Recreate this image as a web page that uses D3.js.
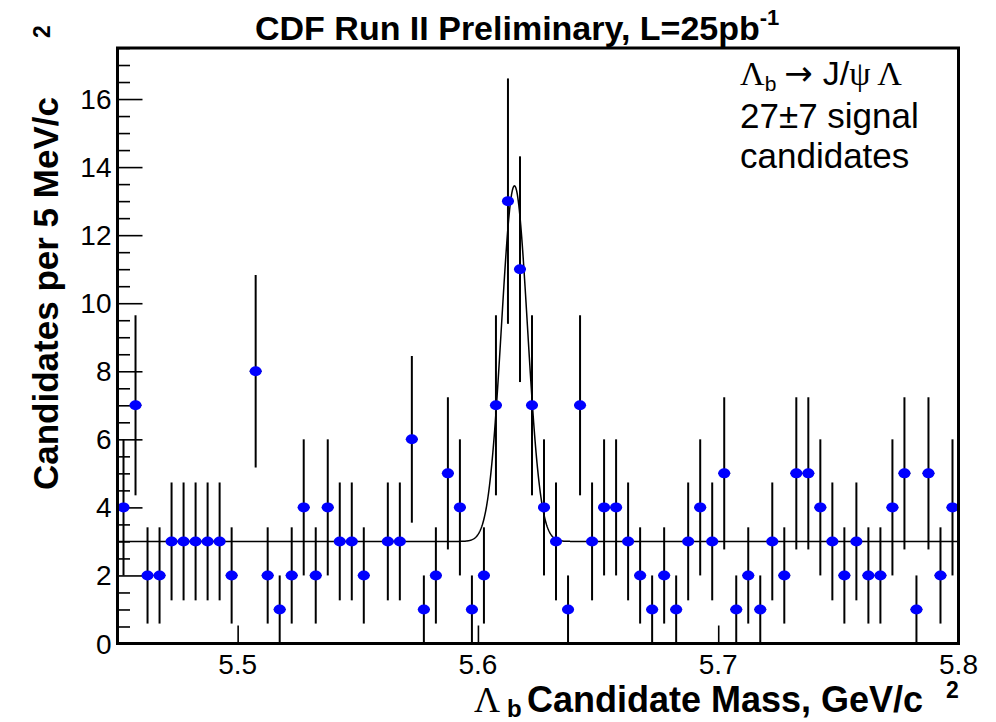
<!DOCTYPE html>
<html><head><meta charset="utf-8">
<script src="https://cdn.jsdelivr.net/npm/d3@7/dist/d3.min.js"></script>
<style>
body{margin:0;background:#fff}
svg{display:block}
text{font-family:"Liberation Sans",Arial,Helvetica,sans-serif;fill:#000}
.serif{font-family:"Liberation Serif","Times New Roman",serif}
.arrow{font-family:"DejaVu Sans",sans-serif}
</style></head><body>
<svg id="chart" width="996" height="722"></svg>
<script>
// Lambda_b candidate mass histogram, 5 MeV bins from 5.45 to 5.80 GeV/c^2
const massBins = [
  5.4525,5.4575,5.4625,5.4675,5.4725,5.4775,5.4825,5.4875,5.4925,5.4975,
  5.5025,5.5075,5.5125,5.5175,5.5225,5.5275,5.5325,5.5375,5.5425,5.5475,
  5.5525,5.5575,5.5625,5.5675,5.5725,5.5775,5.5825,5.5875,5.5925,5.5975,
  5.6025,5.6075,5.6125,5.6175,5.6225,5.6275,5.6325,5.6375,5.6425,5.6475,
  5.6525,5.6575,5.6625,5.6675,5.6725,5.6775,5.6825,5.6875,5.6925,5.6975,
  5.7025,5.7075,5.7125,5.7175,5.7225,5.7275,5.7325,5.7375,5.7425,5.7475,
  5.7525,5.7575,5.7625,5.7675,5.7725,5.7775,5.7825,5.7875,5.7925,5.7975
];
const candidates = [
  4,7,2,2,3,3,3,3,3,2,
  0,8,2,1,2,4,2,4,3,3,
  2,0,3,3,6,1,2,5,4,1,
  2,7,13,11,7,4,3,1,7,3,
  4,4,3,2,1,2,1,3,4,3,
  5,1,2,1,3,2,5,5,4,3,
  2,3,2,2,4,5,1,5,2,4
];
const binWidth = 0.005;

// Gaussian signal on a flat background
const fitBackground = 3;
const fitAmplitude = 10.45;
const fitMean = 5.6152;
const fitSigma = 0.0054;

const xTickValues = [5.5, 5.6, 5.7, 5.8];
const yTickValues = [0, 2, 4, 6, 8, 10, 12, 14, 16];
const xDomain = [5.45, 5.8];
const yDomain = [0, 17.5];

const plot = {left: 117.5, right: 958.5, top: 48, bottom: 643.5};
const svg = d3.select("#chart");

const x = d3.scaleLinear().domain(xDomain).range([plot.left, plot.right]);
const y = d3.scaleLinear().domain(yDomain).range([plot.bottom, plot.top]);

// y axis: major ticks every 2, minor every 0.5, drawn inside the frame
const yMajor = d3.axisRight(y).tickValues(yTickValues).tickSize(25).tickFormat("");
const yMinor = d3.axisRight(y).tickValues(d3.range(0, 17.51, 0.5).filter(v => v % 2 !== 0)).tickSize(12.5).tickFormat("");
[yMajor, yMinor].forEach(ax => {
  const g = svg.append("g").attr("transform", `translate(${plot.left},0)`).call(ax);
  g.select(".domain").remove();
  g.selectAll("line").attr("stroke", "#000").attr("stroke-width", 1.6);
});
svg.append("g").selectAll("text").data(yTickValues).join("text")
  .attr("x", plot.left - 6).attr("y", d => y(d) + 10)
  .attr("text-anchor", "end").attr("font-size", 28).text(d => d);

// x axis: major ticks only, pointing up into the frame
const xAxis = d3.axisTop(x).tickValues(xTickValues).tickSize(18).tickFormat("");
const gx = svg.append("g").attr("transform", `translate(0,${plot.bottom})`).call(xAxis);
gx.select(".domain").remove();
gx.selectAll("line").attr("stroke", "#000").attr("stroke-width", 1.6);
svg.append("g").selectAll("text").data(xTickValues).join("text")
  .attr("x", d => x(d)).attr("y", plot.bottom + 30)
  .attr("text-anchor", "middle").attr("font-size", 28).text(d => d.toFixed(1));

// fit curve
const curveX = d3.range(xDomain[0], xDomain[1] + 1e-9, 0.0002);
const fitValue = m => fitBackground + fitAmplitude * Math.exp(-0.5 * Math.pow((m - fitMean) / fitSigma, 2));
svg.append("path")
  .datum(curveX)
  .attr("d", d3.line().x(m => x(m)).y(m => y(fitValue(m))))
  .attr("fill", "none").attr("stroke", "#000").attr("stroke-width", 1.5);

// data points with Poisson errors; empty bins are not drawn
const pts = massBins.map((m, i) => ({m, n: candidates[i]})).filter(d => d.n > 0);
const gp = svg.append("g");
gp.selectAll("line.ey").data(pts).join("line").attr("class", "ey")
  .attr("x1", d => x(d.m)).attr("x2", d => x(d.m))
  .attr("y1", d => y(Math.max(0, d.n - Math.sqrt(d.n))))
  .attr("y2", d => y(d.n + Math.sqrt(d.n)))
  .attr("stroke", "#000").attr("stroke-width", 2);
gp.selectAll("line.ex").data(pts).join("line").attr("class", "ex")
  .attr("x1", d => x(d.m - binWidth / 2)).attr("x2", d => x(d.m + binWidth / 2))
  .attr("y1", d => y(d.n)).attr("y2", d => y(d.n))
  .attr("stroke", "#000").attr("stroke-width", 1.5);
gp.selectAll("ellipse").data(pts).join("ellipse")
  .attr("cx", d => x(d.m)).attr("cy", d => y(d.n)).attr("rx", 6).attr("ry", 5)
  .attr("fill", "#0000ff");

// frame
svg.append("rect")
  .attr("x", plot.left).attr("y", plot.top)
  .attr("width", plot.right - plot.left).attr("height", plot.bottom - plot.top)
  .attr("fill", "none").attr("stroke", "#000").attr("stroke-width", 3);

// title
const title = svg.append("text").attr("x", 255).attr("y", 40)
  .attr("font-size", 34).attr("font-weight", "bold");
title.append("tspan").text("CDF Run II Preliminary, L=25pb");
title.append("tspan").attr("dy", -15).attr("font-size", 22).text("-1");

// y axis title
svg.append("text").attr("transform", "translate(58,490) rotate(-90)")
  .attr("font-size", 35).attr("font-weight", "bold")
  .text("Candidates per 5 MeV/c");
svg.append("text").attr("transform", "translate(50,38) rotate(-90)")
  .attr("font-size", 23).attr("font-weight", "bold").text("2");

// x axis title
svg.append("text").attr("class", "serif").attr("x", 474).attr("y", 712)
  .attr("font-size", 36).text("\u039B");
svg.append("text").attr("x", 507).attr("y", 717)
  .attr("font-size", 24).attr("font-weight", "bold").text("b");
svg.append("text").attr("x", 527).attr("y", 712)
  .attr("font-size", 36).attr("font-weight", "bold").text("Candidate Mass, GeV/c");
svg.append("text").attr("x", 946).attr("y", 698)
  .attr("font-size", 23).attr("font-weight", "bold").text("2");

// annotation
const ann = svg.append("g");
const l1 = ann.append("text").attr("x", 740).attr("y", 85).attr("font-size", 34);
l1.append("tspan").attr("class", "serif").text("\u039B");
l1.append("tspan").attr("dy", 6).attr("font-size", 21).text("b");
l1.append("tspan").attr("dy", -6).attr("class", "arrow").attr("dx", 8).text("\u2192");
l1.append("tspan").attr("dx", 10).text("J/");
l1.append("tspan").attr("class", "serif").text("\u03C8 \u039B");
ann.append("text").attr("x", 740).attr("y", 128).attr("font-size", 35).text("27\u00B17 signal");
ann.append("text").attr("x", 740).attr("y", 168).attr("font-size", 35).text("candidates");
</script>
</body></html>
